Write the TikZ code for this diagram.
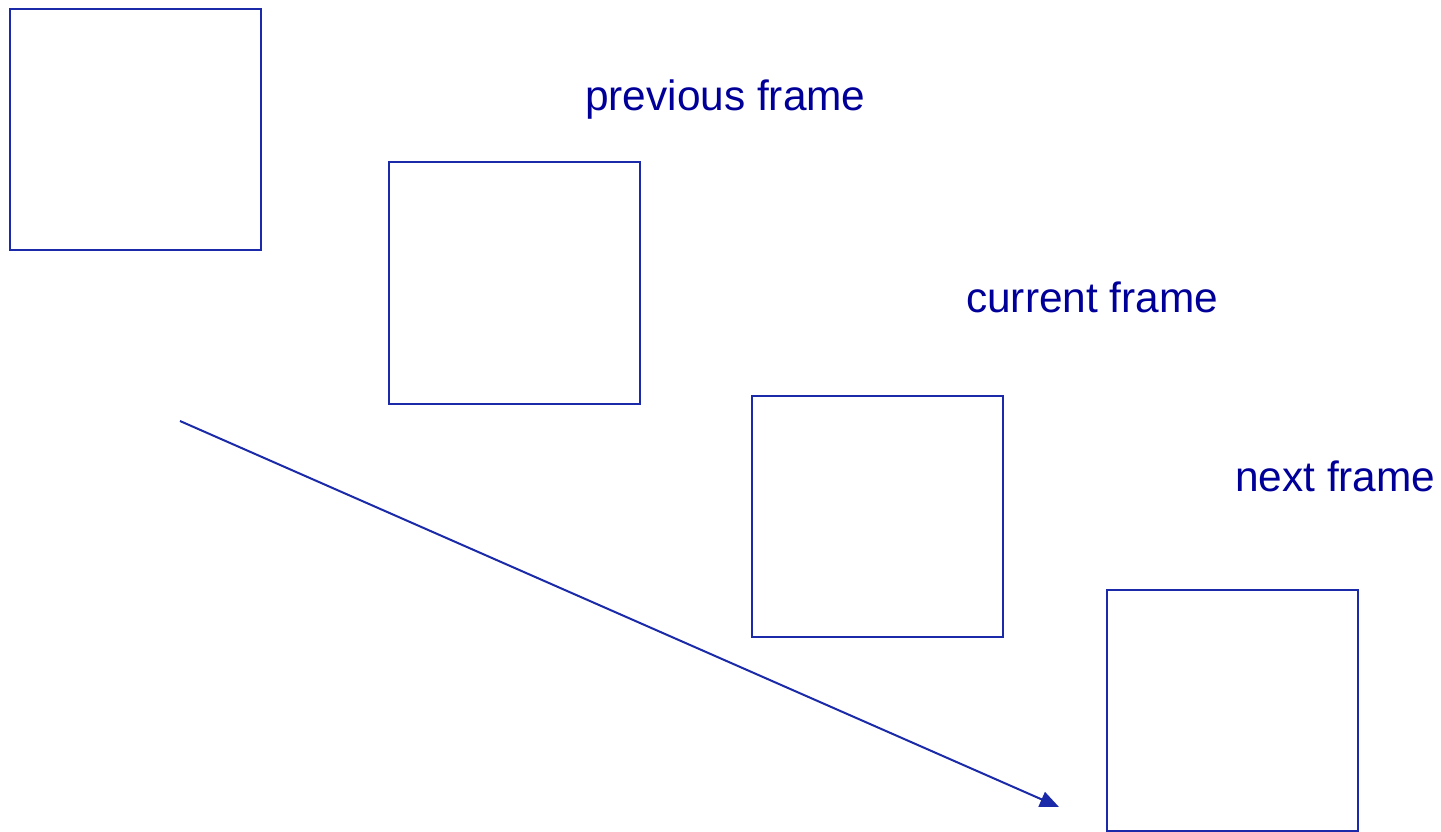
\documentclass[tikz,border=0pt]{standalone}
\usepackage{fontspec}
\setmainfont{Liberation Sans}
\usetikzlibrary{arrows.meta}
\definecolor{linec}{HTML}{1A2AA8}
\definecolor{textc}{HTML}{000099}
\begin{document}
\begin{tikzpicture}[x=1pt,y=-1pt,
  framebox/.style={draw=linec,line width=2pt,inner sep=0pt,minimum width=251pt,minimum height=241pt},
  label/.style={text=textc,font=\fontsize{42.4}{50}\selectfont,inner sep=0pt,anchor=base west}]
\useasboundingbox (0,0) rectangle (1441,832);
\node[framebox] (f1) at (135.5,129.5) {};
\node[framebox] (f2) at (514.5,283) {};
\node[framebox] (f3) at (877.5,516.5) {};
\node[framebox] (f4) at (1232.5,710) {};
\node[label] (l1) at (585,111) {previous frame};
\node[label] (l2) at (966,312) {current frame};
\node[label] (l3) at (1235,491) {next frame};
\coordinate (a) at (180,421);
\coordinate (b) at (1059,807);
\draw[linec,line width=2pt,-{Triangle[length=19pt,width=16pt]}] (a) -- (b);
\end{tikzpicture}
\end{document}
